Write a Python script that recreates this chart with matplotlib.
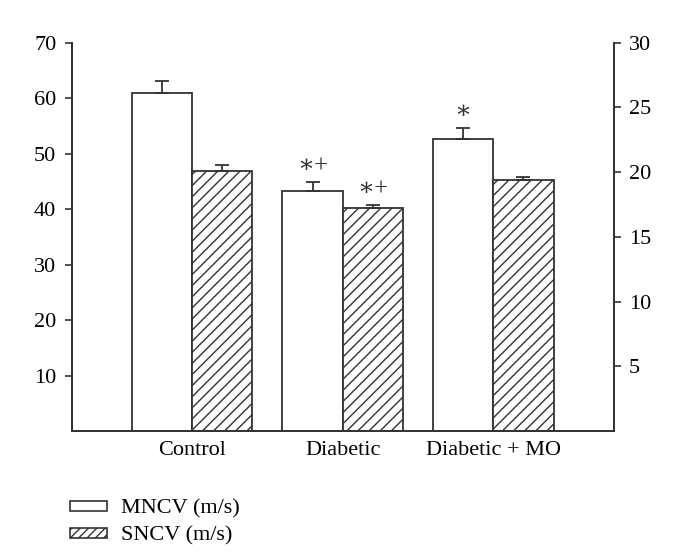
import matplotlib.pyplot as plt
from matplotlib.patches import Patch
import numpy as np

plt.rcParams['font.family'] = ['Liberation Serif', 'DejaVu Serif']
plt.rcParams['hatch.linewidth'] = 1.0
plt.rcParams['hatch.color'] = '#333333'

# data
groups = ['Control', 'Diabetic', 'Diabetic + MO']
mncv = [60.9, 43.3, 52.6]        # left axis
mncv_err = [2.2, 1.5, 2.0]
sncv = [20.1, 17.2, 19.4]        # right axis
sncv_err = [0.45, 0.25, 0.2]
mncv_marks = ['', '∗+', '∗']
sncv_marks = ['', '∗+', '']

edge = '#333333'
x = np.arange(len(groups))
w = 0.4

fig = plt.figure(figsize=(6.82, 5.55), dpi=100)
ax = fig.add_axes([0.105, 0.2234, 0.795, 0.6997])
ax2 = ax.twinx()

ax.bar(x - w / 2, mncv, w, color='white', edgecolor=edge, linewidth=1.3,
       yerr=[[0] * 3, mncv_err], capsize=5,
       error_kw=dict(ecolor=edge, elinewidth=1.3, capthick=1.3))
ax2.bar(x + w / 2, sncv, w, color='white', edgecolor=edge, linewidth=1.3, hatch='///',
        yerr=[[0] * 3, sncv_err], capsize=5,
        error_kw=dict(ecolor=edge, elinewidth=1.3, capthick=1.3))

for i in range(3):
    if mncv_marks[i]:
        ax.text(x[i] - w / 2, mncv[i] + mncv_err[i] + 1.0, mncv_marks[i],
                ha='center', va='bottom', fontsize=18, color=edge)
    if sncv_marks[i]:
        ax2.text(x[i] + w / 2, sncv[i] + sncv_err[i] + 0.4, sncv_marks[i],
                 ha='center', va='bottom', fontsize=18, color=edge)

ax.set_xlim(-0.8, 2.8)
ax.set_ylim(0, 70)
ax2.set_ylim(0, 30)
ax.set_yticks([10, 20, 30, 40, 50, 60, 70])
ax2.set_yticks([5, 10, 15, 20, 25, 30])
ax.set_xticks(x)
ax.set_xticklabels(groups)
ax.tick_params(axis='x', length=0, pad=7, labelsize=16)
ax.tick_params(axis='y', length=5, width=1.2, color=edge, labelsize=16, pad=6)
ax2.tick_params(axis='y', length=5, width=1.2, color=edge, labelsize=16, pad=6)

for a in (ax, ax2):
    a.spines['top'].set_visible(False)
    for s in ('left', 'right', 'bottom'):
        a.spines[s].set_color(edge)
        a.spines[s].set_linewidth(1.3)

handles = [Patch(facecolor='white', edgecolor=edge, linewidth=1.2),
           Patch(facecolor='white', edgecolor=edge, linewidth=1.2, hatch='////')]
fig.legend(handles, ['MNCV (m/s)', 'SNCV (m/s)'], loc='upper left',
           bbox_to_anchor=(0.103, 0.1), frameon=False, fontsize=16,
           handlelength=1.65, handleheight=0.34, handletextpad=0.65,
           labelspacing=0.35, borderpad=0, borderaxespad=0)

fig.savefig('out.png', dpi=100)
